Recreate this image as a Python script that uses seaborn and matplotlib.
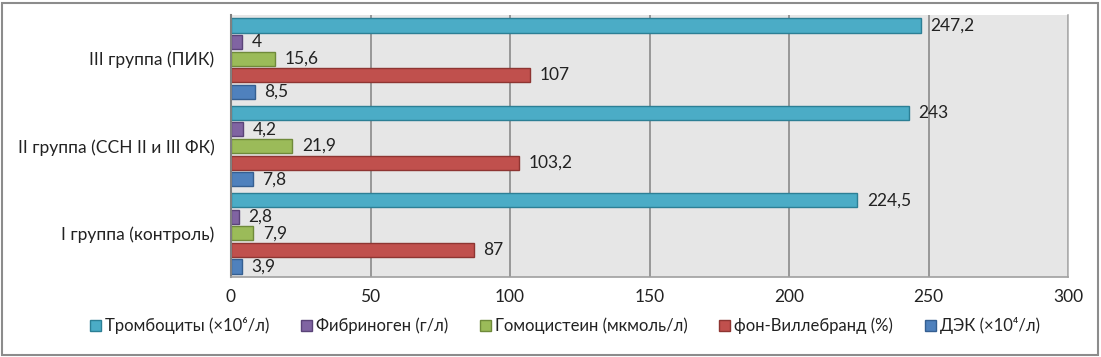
import matplotlib
matplotlib.use("Agg")
import matplotlib.pyplot as plt
import seaborn as sns
import pandas as pd
from matplotlib.patches import Rectangle

groups = ["III группа (ПИК)", "II группа (ССН II и III ФК)", "I группа (контроль)"]
series = ["Тромбоциты (×10⁶/л)", "Фибриноген (г/л)", "Гомоцистеин (мкмоль/л)",
          "фон-Виллебранд (%)", "ДЭК (×10⁴/л)"]
trombocity = [247.2, 243, 224.5]
fibrinogen = [4, 4.2, 2.8]
homocysteine = [15.6, 21.9, 7.9]
vwf = [107, 103.2, 87]
dek = [8.5, 7.8, 3.9]
xticks = [0, 50, 100, 150, 200, 250, 300]

colors = ["#4bacc6", "#8064a2", "#9bbb59", "#c0504d", "#4f81bd"]
edges = ["#2c7f95", "#5a4378", "#6f8a3a", "#8e3532", "#355f91"]

rows = []
for s, vals in zip(series, [trombocity, fibrinogen, homocysteine, vwf, dek]):
    for g, v in zip(groups, vals):
        rows.append({"group": g, "series": s, "value": v})
df = pd.DataFrame(rows)

sns.set_style("white")
plt.rcParams['font.family'] = ['Lato', 'DejaVu Sans']

fig = plt.figure(figsize=(11.01, 3.57), dpi=100)
ax = fig.add_axes([231/1101, 1-277/357, (1068-231)/1101, (277-15)/357])
sns.barplot(data=df, y="group", x="value", hue="series", order=groups,
            hue_order=series, palette=colors, saturation=1, orient="h",
            width=0.95, gap=0.15, ax=ax, legend=False)
ax.set_facecolor("#e6e6e6")
for cont, ec, vals in zip(ax.containers, edges,
                          [trombocity, fibrinogen, homocysteine, vwf, dek]):
    for p in cont:
        p.set_edgecolor(ec)
        p.set_linewidth(1.0)
    ax.bar_label(cont, labels=[f"{v:g}".replace('.', ',') for v in vals],
                 padding=7, fontsize=12.5, color="#222222")

ax.set_xlim(0, 300)
ax.set_xticks(xticks)
ax.set_xticklabels([str(t) for t in xticks], fontsize=12.5, color="#222222")
ax.tick_params(axis='y', labelsize=12.5, colors="#222222", length=0, pad=12)
ax.tick_params(axis='x', length=0, pad=9)
ax.set_xlabel("")
ax.set_ylabel("")
ax.xaxis.grid(True, color="#8a8a8a", linewidth=1.2)
ax.set_axisbelow(True)
ax.spines["top"].set_visible(False)
ax.spines["left"].set_color("#808080")
ax.spines["left"].set_linewidth(1.5)
ax.spines["bottom"].set_color("#a0a0a0")
ax.spines["bottom"].set_linewidth(1.2)
ax.spines["right"].set_color("#b0b0b0")
ax.spines["right"].set_linewidth(1.2)

handles = [Rectangle((0, 0), 1, 1, facecolor=c, edgecolor=e) for c, e in zip(colors, edges)]
fig.legend(handles, series, loc="center", bbox_to_anchor=(0.513, 0.087), ncol=5,
           frameon=False, fontsize=12, handlelength=0.65, handleheight=0.65,
           handletextpad=0.25, columnspacing=1.9, labelcolor="#222222")

fig.patches.append(Rectangle((2/1101, 2/357), 1-5/1101, 1-5/357, transform=fig.transFigure,
                             fill=False, edgecolor="#8c8c8c", linewidth=1.5))
fig.savefig("out.png", dpi=100)
